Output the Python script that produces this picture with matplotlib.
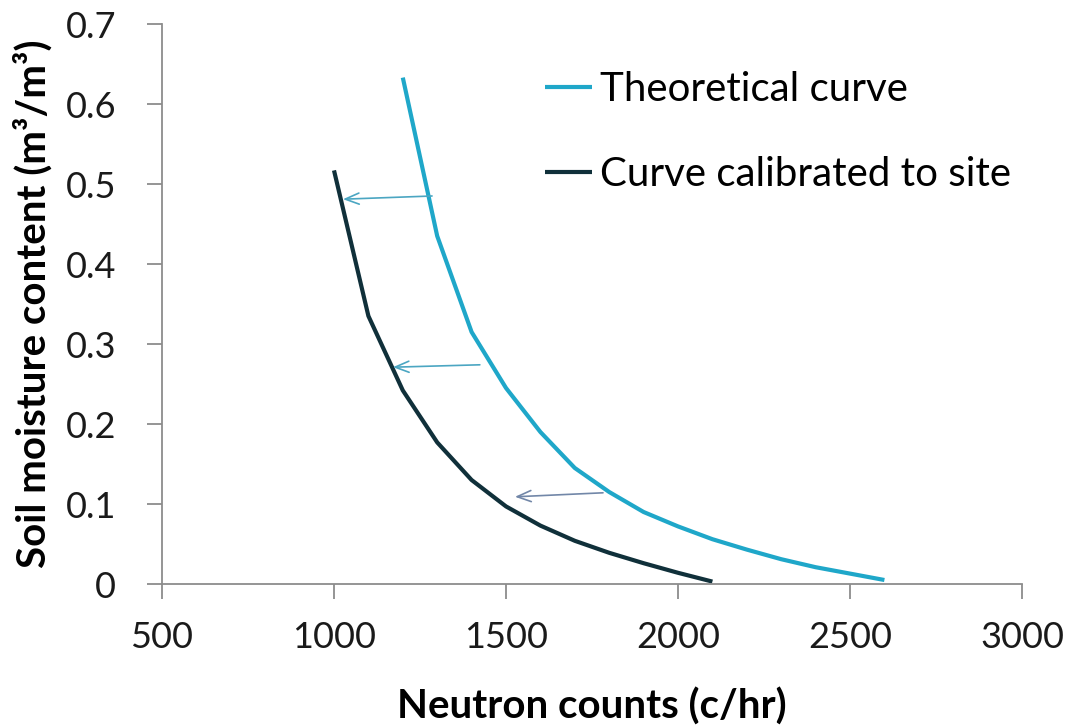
import matplotlib
matplotlib.use("Agg")
import matplotlib.pyplot as plt

plt.rcParams['font.family'] = ['Lato', 'DejaVu Sans']

# data
counts_theory = [1200, 1300, 1400, 1500, 1600, 1700, 1800, 1900, 2000,
                 2100, 2200, 2300, 2400, 2500, 2600]
sm_theory = [0.633, 0.435, 0.315, 0.245, 0.19, 0.145, 0.115, 0.09, 0.072,
             0.056, 0.043, 0.031, 0.021, 0.013, 0.005]

counts_calib = [1000, 1100, 1200, 1300, 1400, 1500, 1600, 1700, 1800,
                1900, 2000, 2100]
sm_calib = [0.517, 0.335, 0.242, 0.177, 0.13, 0.097, 0.073, 0.054, 0.039,
            0.026, 0.014, 0.003]

# arrows: (start x, start y) -> (end x, end y)
arrow_start = [(1285, 0.485), (1424, 0.274), (1782, 0.114)]
arrow_end = [(1026, 0.481), (1171, 0.271), (1526, 0.109)]
arrow_colors = ['#4BA6C2', '#4BA6C2', '#7287A8']

xticks = [500, 1000, 1500, 2000, 2500, 3000]
yticks = [0, 0.1, 0.2, 0.3, 0.4, 0.5, 0.6, 0.7]
ytick_labels = ['0', '0.1', '0.2', '0.3', '0.4', '0.5', '0.6', '0.7']

fig = plt.figure(figsize=(10.69, 7.27), dpi=100)
ax = fig.add_axes([162 / 1069, 1 - 584 / 727, (1022 - 162) / 1069, (584 - 24) / 727])

ax.plot(counts_theory, sm_theory, color='#1FA7C9', lw=3, label='Theoretical curve',
        solid_capstyle='butt')
ax.plot(counts_calib, sm_calib, color='#10303A', lw=3, label='Curve calibrated to site',
        solid_capstyle='butt')

for s, e, c in zip(arrow_start, arrow_end, arrow_colors):
    ax.annotate('', xy=e, xytext=s,
                arrowprops=dict(arrowstyle='->,head_length=1.0,head_width=0.4',
                                color=c, lw=1.2, shrinkA=0, shrinkB=0))

ax.set_xlim(500, 3000)
ax.set_ylim(0, 0.7)
ax.set_xticks(xticks)
ax.set_yticks(yticks)
ax.set_yticklabels(ytick_labels)

for side in ['top', 'right']:
    ax.spines[side].set_visible(False)
for side in ['left', 'bottom']:
    ax.spines[side].set_color('#8C8C8C')
    ax.spines[side].set_linewidth(1.3)

ax.tick_params(axis='both', direction='out', length=11, width=1.3, color='#8C8C8C',
               labelsize=26, labelcolor='#1A1A1A')
ax.tick_params(axis='x', pad=16)
ax.tick_params(axis='y', pad=22)

ax.set_xlabel('Neutron counts (c/hr)', fontsize=29, fontweight='bold', labelpad=24)
ax.set_ylabel('Soil moisture content (m³/m³)', fontsize=29, fontweight='bold', labelpad=9)

leg = ax.legend(loc='upper left', bbox_to_anchor=(545 / 1069, 1 - 71 / 727),
                bbox_transform=fig.transFigure, frameon=False, fontsize=29,
                handlelength=1.17, handletextpad=0.2, labelspacing=1.2,
                borderpad=0, borderaxespad=0)

fig.savefig('out.png', dpi=100)
